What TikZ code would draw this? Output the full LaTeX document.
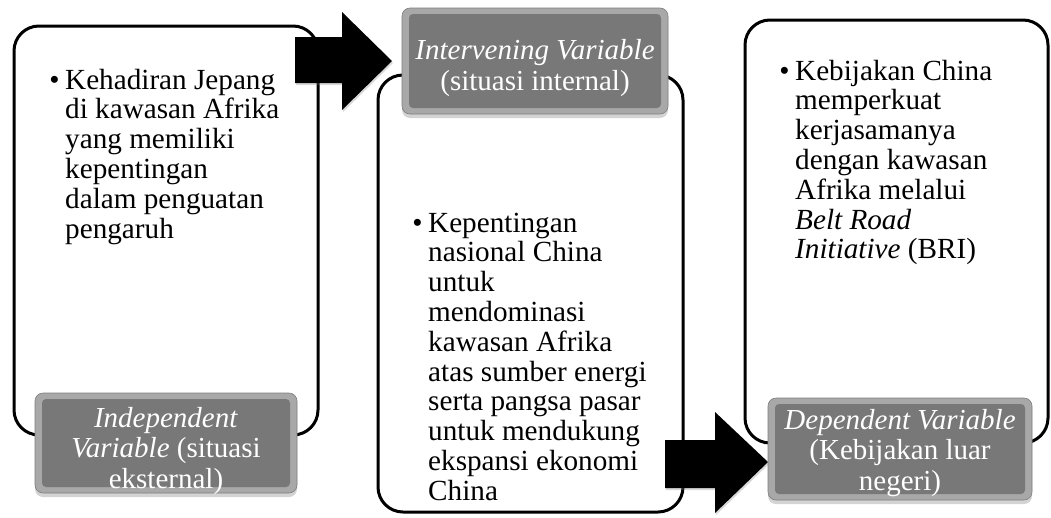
\documentclass[tikz,border=0pt]{standalone}
\usepackage{fontspec}
\setmainfont{Liberation Serif}
\usetikzlibrary{shadows}
\definecolor{face}{RGB}{120,120,120}
\definecolor{rim}{RGB}{168,168,168}
\tikzset{
  outlinebox/.style={draw=black, line width=3pt, rounded corners=25pt, inner sep=0pt},
  varbox/.style={fill=rim, draw=rim!75!black, line width=0.6pt, rounded corners=8pt,
    inner sep=0pt,
    drop shadow={opacity=0.35, shadow xshift=0pt, shadow yshift=-4pt},
    path picture={\fill[face, rounded corners=4pt]
      ([xshift=7pt,yshift=-6pt]path picture bounding box.north west) rectangle
      ([xshift=-7pt,yshift=6pt]path picture bounding box.south east);}},
  vartext/.style={inner sep=0pt, text=white, align=center,
    font=\fontsize{29pt}{30.5pt}\selectfont},
  bodytext/.style={anchor=base west, inner sep=0pt, text=black,
    font=\fontsize{29.2pt}{29.8pt}\selectfont},
  blockarrow/.style={fill=black, drop shadow={opacity=0.3, shadow xshift=1pt, shadow yshift=-2pt}}
}
\newcommand{\bul}{\llap{\textbullet\hspace{5.5pt}}}
\begin{document}
\begin{tikzpicture}[x=1pt,y=-1pt]
\useasboundingbox (0,0) rectangle (1051,517);

% outline boxes
\node[outlinebox, minimum width=304pt, minimum height=409pt] (lbox) at (166,230.5) {};
\node[outlinebox, minimum width=305pt, minimum height=437pt] (mbox) at (530.5,293.5) {};
\node[outlinebox, minimum width=303pt, minimum height=423pt] (rbox) at (896.5,231.5) {};

% body texts
\node[bodytext] (ltext) at (65,89) {\begin{tabular}[t]{@{}l@{}}\bul Kehadiran Jepang\\ di kawasan Afrika\\ yang memiliki\\ kepentingan\\ dalam penguatan\\ pengaruh\end{tabular}};
\node[bodytext] (mtext) at (428,232) {\begin{tabular}[t]{@{}l@{}}\bul Kepentingan\\ nasional China\\ untuk\\ mendominasi\\ kawasan Afrika\\ atas sumber energi\\ serta pangsa pasar\\ untuk mendukung\\ ekspansi ekonomi\\ China\end{tabular}};
\node[bodytext] (rtext) at (795,80) {\begin{tabular}[t]{@{}l@{}}\bul Kebijakan China\\ memperkuat\\ kerjasamanya\\ dengan kawasan\\ Afrika melalui\\ \textit{Belt Road}\\ \textit{Initiative} (BRI)\end{tabular}};

% block arrows
\coordinate (a1) at (295,60);
\fill[blockarrow] (a1) ++(0,-23) -- ++(47,0) -- ++(0,-25) -- (392,61) -- (342,110) -- (342,83) -- (295,83) -- cycle;
\coordinate (a2) at (665,464);
\fill[blockarrow] (a2) ++(0,-24) -- ++(50,0) -- ++(0,-28) -- (768,462) -- (715,513) -- (715,488) -- (665,488) -- cycle;

% variable labels
\node[varbox, minimum width=262pt, minimum height=100pt] (indep) at (166,443) {};
\node[vartext] (indepT) at (166,451)
  {\textit{Independent}\\ \textit{Variable} (situasi\\ eksternal)};
\node[varbox, minimum width=266pt, minimum height=106pt] (interv) at (535,61) {};
\node[vartext] (intervT) at (535,68)
  {\textit{Intervening Variable}\\ (situasi internal)};
\node[varbox, minimum width=264pt, minimum height=102pt] (dep) at (900,449) {};
\node[vartext] (depT) at (900,453)
  {\textit{Dependent Variable}\\ (Kebijakan luar\\ negeri)};
\end{tikzpicture}
\end{document}
